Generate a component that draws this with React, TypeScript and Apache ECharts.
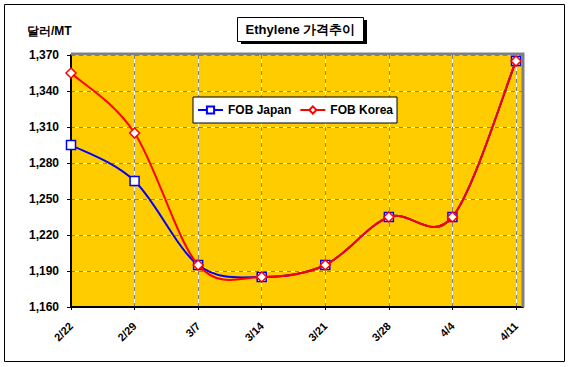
import React, { useEffect, useRef } from "react";
import * as echarts from "echarts";

const categories = ["2/22", "2/29", "3/7", "3/14", "3/21", "3/28", "4/4", "4/11"];
const fobJapan = [1295, 1265, 1195, 1185, 1195, 1235, 1235, 1365];
const fobKorea = [1355, 1305, 1195, 1185, 1195, 1235, 1235, 1365];
const yTicks = { min: 1160, max: 1370, interval: 30 };
const seriesNames = ["FOB Japan", "FOB Korea"];
const seriesColors = ["#0000FF", "#FF0000"];
const titleText = "Ethylene 가격추이";
const unitText = "달러/MT";

const FONT = "'Liberation Sans', Arial, sans-serif";

function curveSeries(values: number[], color: string, z: number) {
  return {
    type: "custom",
    name: "curve-" + color,
    z,
    silent: true,
    data: values.map((v, i) => [i, v]),
    renderItem: (params: any, api: any) => {
      const i = params.dataIndex;
      const n = values.length;
      if (i >= n - 1) return null;
      const p = (j: number) => {
        const k = Math.max(0, Math.min(n - 1, j));
        return api.coord([k, values[k]]);
      };
      const p0 = p(i - 1), p1 = p(i), p2 = p(i + 1), p3 = p(i + 2);
      return {
        type: "bezierCurve",
        shape: {
          x1: p1[0], y1: p1[1],
          cpx1: p1[0] + (p2[0] - p0[0]) / 6,
          cpy1: p1[1] + (p2[1] - p0[1]) / 6,
          cpx2: p2[0] - (p3[0] - p1[0]) / 6,
          cpy2: p2[1] - (p3[1] - p1[1]) / 6,
          x2: p2[0], y2: p2[1],
        },
        style: { stroke: color, lineWidth: 2, fill: null },
      };
    },
  };
}

export default function App() {
  const ref = useRef<HTMLDivElement>(null);
  useEffect(() => {
    document.body.style.margin = "0";
    const chart = echarts.init(ref.current!, null, { renderer: "svg" });
    const xMax = 7.11;
    const gl = 71, gt = 55, gr = 523, gb = 307;
    const xAxisBase = { type: "value" as const, min: 0, max: xMax, interval: 1 };
    const yAxisBase = { type: "value" as const, min: yTicks.min, max: yTicks.max, interval: yTicks.interval };
    const symbols = ["rect", "diamond"];
    chart.setOption({
      animation: false,
      backgroundColor: "#ffffff",
      grid: {
        left: gl, top: gt, right: 570 - gr, bottom: 367 - gb,
        show: true, backgroundColor: "#FFCC00", borderWidth: 0,
      },
      legend: {
        left: 193,
        top: 97,
        padding: [7, 4, 7, 4],
        itemWidth: 25,
        itemHeight: 9,
        itemGap: 8,
        backgroundColor: "#ffffff",
        borderColor: "#000000",
        borderWidth: 1,
        borderRadius: 0,
        data: seriesNames.map((name, k) => ({
          name,
          lineStyle: { color: seriesColors[k], width: 2, opacity: 1 },
        })),
        textStyle: { color: "#000", fontFamily: FONT, fontWeight: "bold", fontSize: 12 },
      },
      xAxis: [
        {
          ...xAxisBase,
          axisLine: { show: true, onZero: false, lineStyle: { color: "#000", width: 2 } },
          axisTick: { show: true, length: 3, lineStyle: { color: "#000" } },
          axisLabel: {
            rotate: 45,
            margin: 17,
            fontFamily: FONT,
            fontWeight: "bold",
            fontSize: 11,
            color: "#000",
            showMaxLabel: false,
            formatter: (v: number) => (Number.isInteger(v) ? categories[v] : ""),
          },
          splitLine: { show: true, lineStyle: { color: "#808080", width: 1, type: [4, 4] } },
        },
        {
          ...xAxisBase,
          position: "bottom",
          axisLine: { show: false },
          axisTick: { show: false },
          axisLabel: { show: false },
          splitLine: { show: true, lineStyle: { color: "#ffffff", width: 1, type: [4, 4], dashOffset: 4 } },
        },
      ],
      yAxis: [
        {
          ...yAxisBase,
          axisLine: { show: true, lineStyle: { color: "#000", width: 2 } },
          axisTick: { show: true, length: 4, lineStyle: { color: "#000" } },
          axisLabel: {
            margin: 12,
            fontFamily: FONT,
            fontWeight: "bold",
            fontSize: 12,
            color: "#000",
            formatter: (v: number) => v.toLocaleString("en-US"),
          },
          splitLine: { show: true, lineStyle: { color: "#808080", width: 1, type: [4, 4] } },
        },
        {
          ...yAxisBase,
          position: "left",
          axisLine: { show: false },
          axisTick: { show: false },
          axisLabel: { show: false },
          splitLine: { show: true, lineStyle: { color: "#ffffff", width: 1, type: [4, 4], dashOffset: 4 } },
        },
      ],
      series: [
        curveSeries(fobJapan, seriesColors[0], 2),
        {
          name: seriesNames[0],
          type: "line",
          data: fobJapan.map((v, i) => [i, v]),
          symbol: symbols[0],
          symbolSize: 9,
          lineStyle: { color: seriesColors[0], width: 2, opacity: 0 },
          itemStyle: { color: "#ffffff", borderColor: seriesColors[0], borderWidth: 1.5 },
          z: 3,
        },
        curveSeries(fobKorea, seriesColors[1], 4),
        {
          name: seriesNames[1],
          type: "line",
          data: fobKorea.map((v, i) => [i, v]),
          symbol: symbols[1],
          symbolSize: 10,
          lineStyle: { color: seriesColors[1], width: 2, opacity: 0 },
          itemStyle: { color: "#ffffff", borderColor: seriesColors[1], borderWidth: 1.5 },
          z: 5,
        },
      ],
      graphic: [
        {
          type: "polyline", z: 100,
          shape: { points: [[gl, gt - 1], [gr, gt - 1], [gr, gb]] },
          style: { stroke: "#808080", lineWidth: 3, fill: null },
        },
        {
          type: "rect", z: 100,
          shape: { x: 4.5, y: 4.5, width: 560, height: 357 },
          style: { stroke: "#000", lineWidth: 1, fill: null },
        },
        {
          type: "rect", z: 100,
          shape: { x: 241, y: 20, width: 126, height: 24 },
          style: { fill: "#000" },
        },
        {
          type: "rect", z: 101,
          shape: { x: 237.5, y: 17.5, width: 126, height: 24 },
          style: { fill: "#fff", stroke: "#000", lineWidth: 1 },
        },
        {
          type: "text", z: 102, x: 300.5, y: 29.5,
          style: {
            text: titleText, fill: "#000", font: `bold 13px ${FONT}`,
            align: "center", verticalAlign: "middle",
          },
        },
        {
          type: "text", z: 102, x: 27, y: 31,
          style: {
            text: unitText, fill: "#000", font: `bold 12px ${FONT}`,
            align: "left", verticalAlign: "middle",
          },
        },
      ],
    });
    return () => chart.dispose();
  }, []);
  return <div ref={ref} style={{ width: 570, height: 367 }} />;
}
